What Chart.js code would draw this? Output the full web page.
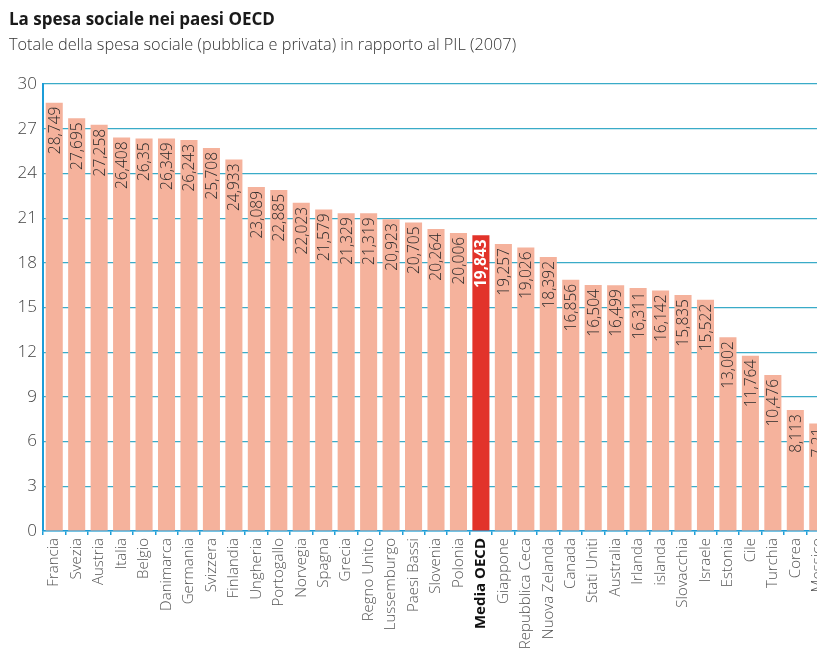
<!DOCTYPE html>
<html>
<head>
<meta charset="utf-8">
<script src="https://cdn.jsdelivr.net/npm/chart.js@4/dist/chart.umd.min.js"></script>
<style>
  html, body { margin: 0; padding: 0; background: #fff; width: 817px; height: 658px; overflow: hidden; }
  #wrap { position: absolute; left: 0; top: 0; width: 840px; height: 661px; }
  #title { position: absolute; left: 9px; top: 7px; font-family: "Liberation Sans Narrow", "Open Sans", sans-serif; font-weight: bold; font-size: 17px; color: #1a1a1a; z-index: 2; white-space: nowrap; }
  #subtitle { position: absolute; left: 9px; top: 33px; font-family: "Open Sans", sans-serif; font-weight: 300; font-size: 16.3px; color: #333; z-index: 2; white-space: nowrap; }
</style>
</head>
<body>
<div id="title">La spesa sociale nei paesi OECD</div>
<div id="subtitle">Totale della spesa sociale (pubblica e privata) in rapporto al PIL (2007)</div>
<div id="wrap"><canvas id="c"></canvas></div>
<script>
const categories = ["Francia","Svezia","Austria","Italia","Belgio","Danimarca","Germania","Svizzera","Finlandia","Ungheria","Portogallo","Norvegia","Spagna","Grecia","Regno Unito","Lussemburgo","Paesi Bassi","Slovenia","Polonia","Media OECD","Giappone","Repubblica Ceca","Nuova Zelanda","Canada","Stati Uniti","Australia","Irlanda","islanda","Slovacchia","Israele","Estonia","Cile","Turchia","Corea","Messico"];
const spesaSociale = [28.749,27.695,27.258,26.408,26.35,26.349,26.243,25.708,24.933,23.089,22.885,22.023,21.579,21.329,21.319,20.923,20.705,20.264,20.006,19.843,19.257,19.026,18.392,16.856,16.504,16.499,16.311,16.142,15.835,15.522,13.002,11.764,10.476,8.113,7.21];
const highlightCategory = "Media OECD";
const yTicks = [0,3,6,9,12,15,18,21,24,27,30];

const BAR = '#f5b29c', RED = '#e2332a', GRID = '#3aabc8', AXIS = '#1c9dd8';

const valueLabels = {
  id: 'valueLabels',
  afterDatasetsDraw(chart) {
    const ctx = chart.ctx;
    const meta = chart.getDatasetMeta(0);
    meta.data.forEach((bar, i) => {
      const hl = categories[i] === highlightCategory;
      const txt = String(spesaSociale[i]).replace('.', ',');
      ctx.save();
      ctx.translate(bar.x, bar.y + 4);
      ctx.rotate(-Math.PI / 2);
      ctx.textAlign = 'right';
      ctx.textBaseline = 'middle';
      ctx.font = (hl ? 'bold ' : '300 ') + '15.5px "Open Sans", sans-serif';
      ctx.fillStyle = hl ? '#ffffff' : '#2a2a2a';
      ctx.fillText(txt, 0, 1);
      ctx.restore();
    });
  }
};

new Chart(document.getElementById('c'), {
  type: 'bar',
  data: {
    labels: categories,
    datasets: [{
      data: spesaSociale,
      backgroundColor: categories.map(c => c === highlightCategory ? RED : BAR),
      borderWidth: 0,
      barPercentage: 0.76,
      categoryPercentage: 1
    }]
  },
  options: {
    responsive: true,
    maintainAspectRatio: false,
    animation: false,
    layout: { padding: { top: 84, right: 11, left: 0, bottom: 0 } },
    plugins: { legend: { display: false }, tooltip: { enabled: false } },
    scales: {
      x: {
        offset: true,
        grid: { offset: true, drawOnChartArea: false, tickLength: 4, color: AXIS, lineWidth: 1.5 },
        border: { display: true, color: AXIS, width: 1.5 },
        ticks: {
          autoSkip: false,
          maxRotation: 90, minRotation: 90,
          padding: 3,
          color: (ctx) => categories[ctx.index] === highlightCategory ? '#111' : '#555',
          font: (ctx) => ({ family: '"Open Sans", sans-serif', size: 15, weight: categories[ctx.index] === highlightCategory ? 'bold' : '300' })
        },
        afterFit(scale) { scale.height = 130; }
      },
      y: {
        min: 0, max: 30,
        afterBuildTicks(scale) { scale.ticks = yTicks.map(v => ({ value: v })); },
        grid: { color: GRID, lineWidth: 1.2, tickLength: 0 },
        border: { display: true, color: AXIS, width: 2 },
        ticks: {
          padding: 6,
          color: '#444',
          font: { family: '"Open Sans", sans-serif', size: 17, weight: '300' }
        },
        afterFit(scale) { scale.width = 43; }
      }
    }
  },
  plugins: [valueLabels]
});
</script>
</body>
</html>
